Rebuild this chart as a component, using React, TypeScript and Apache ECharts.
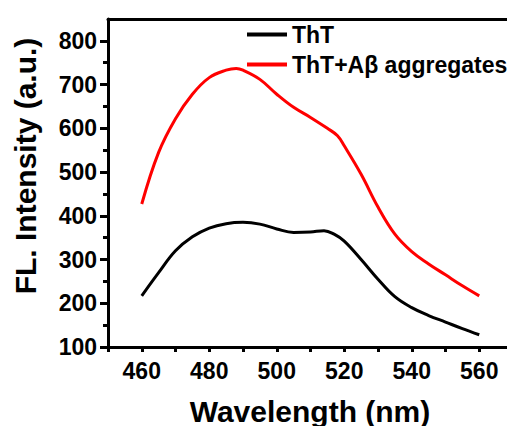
import React, { useEffect, useRef } from "react";
import * as echarts from "echarts";

const seriesNames = ["ThT", "ThT+Aβ aggregates"];
const thtX = [460, 465, 470, 475, 480, 485, 490, 495, 500, 505, 510, 514, 517, 520, 525, 530, 535, 540, 545, 550, 555, 560];
const thtY = [217, 270, 320, 352, 372, 382, 385, 381, 370, 362, 363, 366, 358, 342, 300, 255, 215, 190, 172, 157, 142, 128];
const aggX = [460, 465, 470, 475, 480, 485, 488, 490, 495, 500, 505, 510, 515, 518, 520, 525, 530, 535, 540, 545, 550, 555, 560];
const aggY = [427, 545, 622, 678, 716, 733, 737, 733, 712, 678, 648, 625, 600, 583, 560, 495, 420, 358, 318, 290, 265, 240, 217];
const xLabels = [460, 480, 500, 520, 540, 560];
const yLabels = [100, 200, 300, 400, 500, 600, 700, 800];
const yMinor = [150, 250, 350, 450, 550, 650, 750];
const xTitle = "Wavelength (nm)";
const yTitle = "FL. Intensity (a.u.)";

const FONT = "'Liberation Sans', Arial, sans-serif";

export default function App() {
  const ref = useRef<HTMLDivElement>(null);
  useEffect(() => {
    if (!ref.current) return;
    const chart = echarts.init(ref.current, undefined, { renderer: "svg" });
    const pair = (xs: number[], ys: number[]) => xs.map((x, i) => [x, ys[i]]);
    chart.setOption({
      animation: false,
      backgroundColor: "#ffffff",
      grid: { left: 108, top: 19, right: -6, bottom: 79, outerBoundsMode: "none", containLabel: false },
      legend: {
        orient: "vertical",
        left: 247,
        top: 23,
        padding: 0,
        itemGap: 7,
        itemWidth: 40,
        itemHeight: 4,
        icon: "rect",
        data: seriesNames,
        textStyle: { fontFamily: FONT, fontWeight: "bold", fontSize: 23, color: "#000" },
      },
      xAxis: [
        {
          type: "value",
          position: "bottom",
          min: 450,
          max: 570,
          interval: 10,
          axisLine: { lineStyle: { color: "#000", width: 3 } },
          axisTick: { length: 5, lineStyle: { color: "#000", width: 3 } },
          axisLabel: {
            customValues: xLabels,
            margin: 12,
            fontFamily: FONT,
            fontWeight: "bold",
            fontSize: 23,
            color: "#000",
          },
          splitLine: { show: false },
        },
        {
          type: "value",
          position: "top",
          min: 450,
          max: 570,
          axisLine: { show: true, lineStyle: { color: "#000", width: 3 } },
          axisTick: { show: false },
          axisLabel: { show: false },
          splitLine: { show: false },
        },
      ],
      yAxis: [
        {
          type: "value",
          position: "left",
          min: 100,
          max: 850,
          interval: 100,
          axisLine: { show: true, lineStyle: { color: "#000", width: 3 } },
          axisTick: { show: true, customValues: yLabels, length: 8, lineStyle: { color: "#000", width: 3 } },
          axisLabel: {
            customValues: yLabels,
            margin: 11,
            fontFamily: FONT,
            fontWeight: "bold",
            fontSize: 23,
            color: "#000",
          },
          splitLine: { show: false },
        },
        {
          type: "value",
          position: "left",
          min: 100,
          max: 850,
          interval: 50,
          axisLine: { show: false },
          axisTick: { show: true, customValues: yMinor, length: 5, lineStyle: { color: "#000", width: 3 } },
          axisLabel: { show: false },
          splitLine: { show: false },
        },
      ],
      graphic: [
        {
          type: "text",
          x: 310,
          y: 411,
          style: {
            text: xTitle,
            fontFamily: FONT,
            fontWeight: "bold",
            fontSize: 30,
            fill: "#000",
            align: "center",
            verticalAlign: "middle",
          },
        },
        {
          type: "text",
          x: 25,
          y: 166,
          rotation: Math.PI / 2,
          style: {
            text: yTitle,
            fontFamily: FONT,
            fontWeight: "bold",
            fontSize: 30,
            fill: "#000",
            align: "center",
            verticalAlign: "middle",
          },
        },
      ],
      series: [
        {
          name: seriesNames[0],
          type: "line",
          xAxisIndex: 0,
          yAxisIndex: 0,
          data: pair(thtX, thtY),
          smooth: 0.4,
          symbol: "none",
          lineStyle: { color: "#000000", width: 3 },
          itemStyle: { color: "#000000" },
        },
        {
          name: seriesNames[1],
          type: "line",
          xAxisIndex: 0,
          yAxisIndex: 0,
          data: pair(aggX, aggY),
          smooth: 0.4,
          symbol: "none",
          lineStyle: { color: "#ff0000", width: 3 },
          itemStyle: { color: "#ff0000" },
        },
      ],
    });
    return () => chart.dispose();
  }, []);
  return <div ref={ref} style={{ position: "fixed", left: 0, top: 0, width: 507, height: 426 }} />;
}
